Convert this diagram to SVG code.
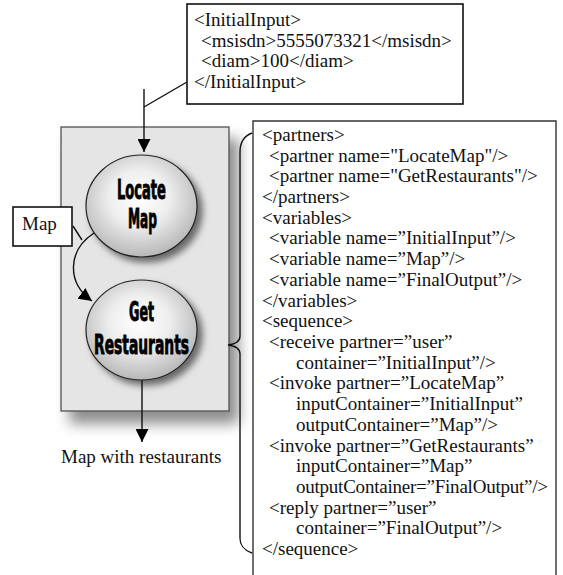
<svg xmlns="http://www.w3.org/2000/svg" width="563" height="575" viewBox="0 0 563 575">
<defs>
  <style>
    .t { font-family: "Liberation Serif", "Times New Roman", serif; font-size: 19px; fill: #111; }
    .n { font-family: "Liberation Sans Narrow", "DejaVu Sans Condensed", "Liberation Sans", sans-serif; font-weight: bold; font-size: 26px; fill: #000; stroke: #000; stroke-width: 0.9; }
    .box { fill: #fff; stroke: #111; stroke-width: 1.6; }
    .ln { fill: none; stroke: #111; stroke-width: 1.4; }
  </style>
  <radialGradient id="ball" cx="0.48" cy="0.42" r="0.6">
    <stop offset="0" stop-color="#ffffff"/>
    <stop offset="0.45" stop-color="#eeeeee"/>
    <stop offset="1" stop-color="#b4b4b4"/>
  </radialGradient>
  <filter id="bigShadow" x="-20%" y="-20%" width="150%" height="150%">
    <feDropShadow dx="9" dy="12" stdDeviation="7" flood-color="#000" flood-opacity="0.45"/>
  </filter>
  <filter id="ballShadow" x="-20%" y="-20%" width="150%" height="150%">
    <feDropShadow dx="5" dy="5" stdDeviation="3.5" flood-color="#000" flood-opacity="0.55"/>
  </filter>
  <marker id="ah" viewBox="0 0 10 10" refX="10" refY="5" markerWidth="13" markerHeight="13" markerUnits="userSpaceOnUse" orient="auto">
    <path d="M0,0 L10,5 L0,10 z" fill="#000"/>
  </marker>
</defs>

<g id="process">
  <rect x="61" y="127" width="168" height="284" fill="#e5e5e5" stroke="#444" stroke-width="1.2" filter="url(#bigShadow)"/>
</g>

<g id="initialInput">
  <rect class="box" x="187" y="4" width="276" height="100"/>
  <text class="t" x="194" y="26">&lt;InitialInput&gt;</text>
  <text class="t" x="201" y="47">&lt;msisdn&gt;5555073321&lt;/msisdn&gt;</text>
  <text class="t" x="201" y="67">&lt;diam&gt;100&lt;/diam&gt;</text>
  <text class="t" x="194" y="88">&lt;/InitialInput&gt;</text>
</g>

<g id="bpel">
  <path d="M253,575 V121 H556 V575" fill="#fff" stroke="#333" stroke-width="1.4"/>
  <text class="t" x="262" y="141">&lt;partners&gt;</text>
  <text class="t" x="269" y="162">&lt;partner name="LocateMap"/&gt;</text>
  <text class="t" x="269" y="182">&lt;partner name="GetRestaurants"/&gt;</text>
  <text class="t" x="262" y="203">&lt;/partners&gt;</text>
  <text class="t" x="262" y="224">&lt;variables&gt;</text>
  <text class="t" x="269" y="244">&lt;variable name=”InitialInput”/&gt;</text>
  <text class="t" x="269" y="265">&lt;variable name=”Map”/&gt;</text>
  <text class="t" x="269" y="286">&lt;variable name=”FinalOutput”/&gt;</text>
  <text class="t" x="262" y="307">&lt;/variables&gt;</text>
  <text class="t" x="262" y="327">&lt;sequence&gt;</text>
  <text class="t" x="269" y="348">&lt;receive partner=”user”</text>
  <text class="t" x="296" y="369">container=”InitialInput”/&gt;</text>
  <text class="t" x="269" y="389">&lt;invoke partner=”LocateMap”</text>
  <text class="t" x="296" y="410">inputContainer=”InitialInput”</text>
  <text class="t" x="296" y="431">outputContainer=”Map”/&gt;</text>
  <text class="t" x="269" y="452">&lt;invoke partner=”GetRestaurants”</text>
  <text class="t" x="296" y="472">inputContainer=”Map”</text>
  <text class="t" x="296" y="493" textLength="252">outputContainer=”FinalOutput”/&gt;</text>
  <text class="t" x="269" y="514">&lt;reply partner=”user”</text>
  <text class="t" x="296" y="534">container=”FinalOutput”/&gt;</text>
  <text class="t" x="262" y="555">&lt;/sequence&gt;</text>
</g>

<g id="locateMap">
  <ellipse cx="141.5" cy="206" rx="55.5" ry="51" fill="url(#ball)" stroke="#222" stroke-width="1.2" filter="url(#ballShadow)"/>
  <text class="n" x="117" y="199" textLength="49" lengthAdjust="spacingAndGlyphs">Locate</text>
  <text class="n" x="128" y="228" textLength="29" lengthAdjust="spacingAndGlyphs">Map</text>
</g>

<g id="getRestaurants">
  <ellipse cx="141.5" cy="330" rx="55.5" ry="50" fill="url(#ball)" stroke="#222" stroke-width="1.2" filter="url(#ballShadow)"/>
  <text class="n" x="129" y="321" textLength="25" lengthAdjust="spacingAndGlyphs">Get</text>
  <text class="n" x="94" y="354" textLength="95" lengthAdjust="spacingAndGlyphs">Restaurants</text>
</g>

<g id="mapLabel">
  <rect class="box" x="13" y="207" width="59" height="39"/>
  <text class="t" x="22" y="230">Map</text>
</g>

<g id="outputLabel">
  <text class="t" x="61" y="463">Map with restaurants</text>
</g>

<g id="connectors">
  <line class="ln" x1="144" y1="89" x2="144" y2="152" marker-end="url(#ah)"/>
  <line class="ln" x1="144" y1="107" x2="187" y2="82"/>
  <path class="ln" d="M94,233 C68,250 66,282 92,301" marker-end="url(#ah)"/>
  <line class="ln" x1="73" y1="226" x2="82" y2="240"/>
  <line class="ln" x1="142" y1="380" x2="142" y2="442" marker-end="url(#ah)"/>
  <path class="ln" d="M252,133 C244,136 240,142 240,152 V336 C240,341 236,344 228,345 C236,346 240,349 240,354 V538 C240,546 244,550 252,553"/>
</g>
</svg>
